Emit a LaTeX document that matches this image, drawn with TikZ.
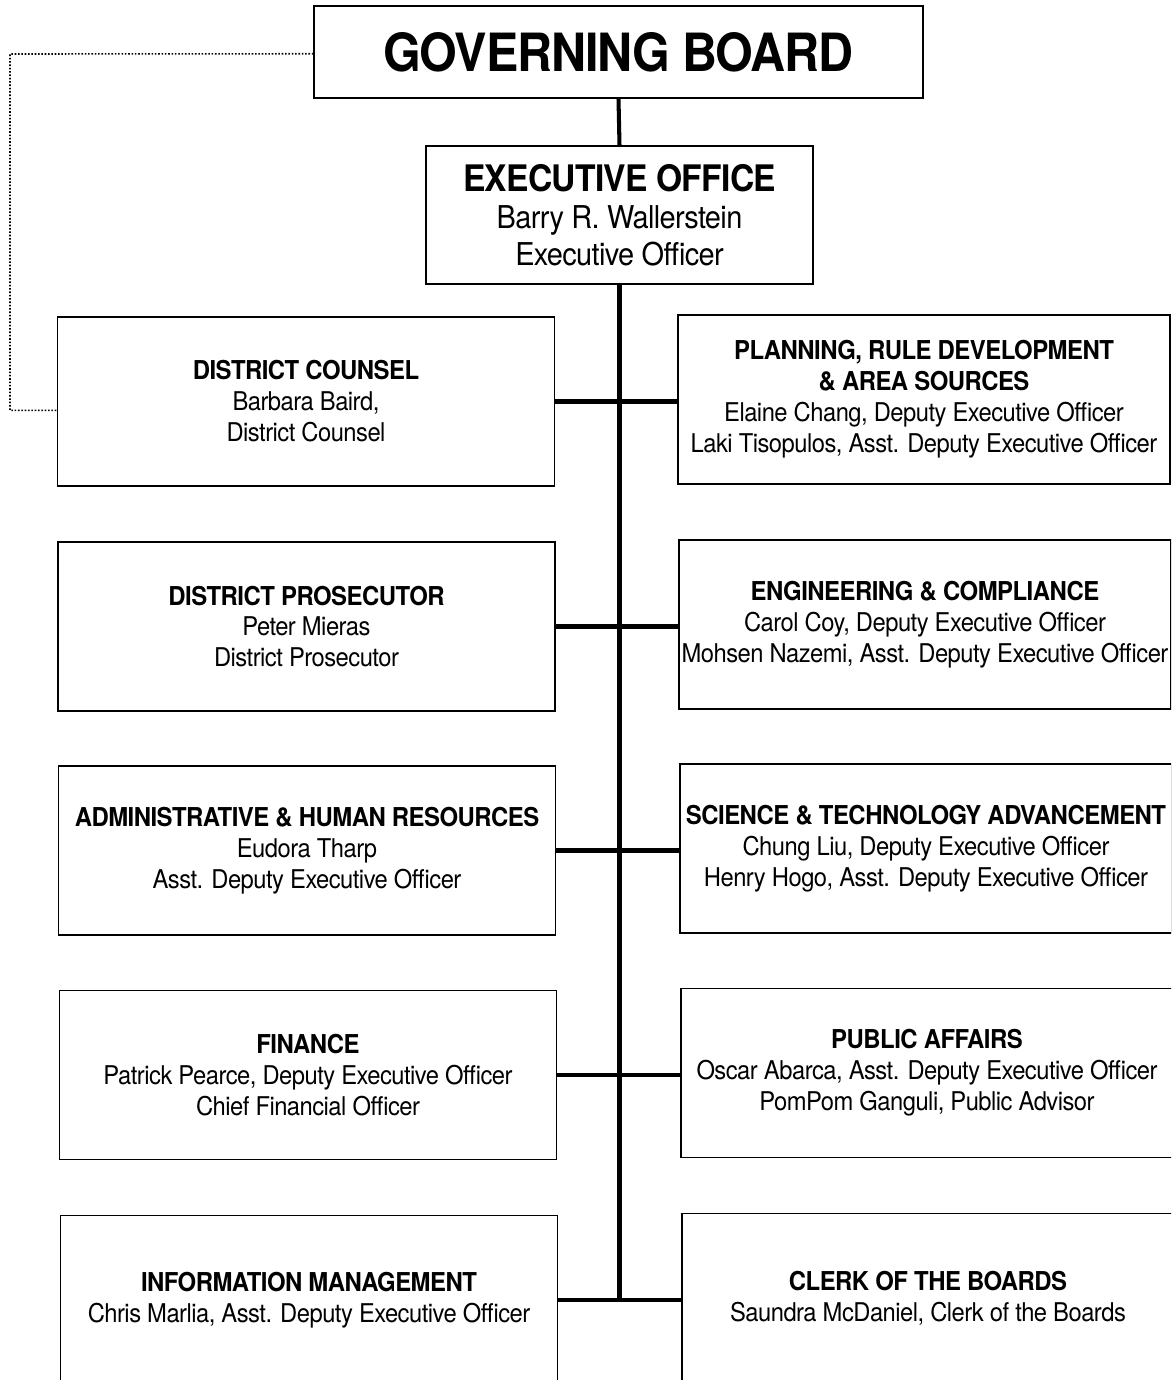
\documentclass[tikz,border=0pt]{standalone}
\usepackage{fontspec}
\setmainfont[FakeStretch=0.92,LetterSpace=-2]{TeX Gyre Heros}
\usetikzlibrary{positioning}
\newcommand{\unittitle}[1]{{\bfseries\fontsize{14.8}{17.6}\selectfont #1}}
\tikzset{
  board/.style={draw=black,line width=0.8pt,minimum width=12.18cm,minimum height=1.84cm,
    font=\bfseries\fontsize{30}{34}\selectfont},
  office/.style={draw=black,line width=0.8pt,align=center,minimum width=7.74cm,minimum height=2.76cm,
    font=\fontsize{17.9}{21}\selectfont},
  unit/.style={draw=black,line width=0.8pt,align=center,inner xsep=0pt,inner ysep=2pt,
    minimum width=9.94cm,minimum height=3.38cm,font=\fontsize{14.7}{17.6}\selectfont},
  runit/.style={unit,minimum width=9.84cm},
  trunk/.style={line width=2.3pt},
  counsel link/.style={line width=0.9pt,densely dotted}
}
\begin{document}
\begin{tikzpicture}[x=0.02cm,y=-0.02cm]
  \useasboundingbox (0,0) rectangle (1171,1380);
  \clip (0,0) rectangle (1171,1380);
  % top of the chart
  \node[board] (gb) at (618.5,52) {GOVERNING BOARD};
  \node[office] (eo) at (619.5,215) {{\bfseries\fontsize{20.8}{21}\selectfont EXECUTIVE OFFICE}\\
    Barry R. Wallerstein\\Executive Officer};
  % left column
  \node[unit] (dc) at (306,401.5) {\unittitle{DISTRICT COUNSEL}\\Barbara Baird,\\District Counsel};
  \node[unit] (dp) at (306.5,626.5) {\unittitle{DISTRICT PROSECUTOR}\\Peter Mieras\\District Prosecutor};
  \node[unit] (ah) at (307,850.5) {\unittitle{ADMINISTRATIVE \& HUMAN RESOURCES}\\Eudora Tharp\\Asst. Deputy Executive Officer};
  \node[unit] (fi) at (308,1075) {\unittitle{FINANCE}\\Patrick Pearce, Deputy Executive Officer\\Chief Financial Officer};
  \node[unit] (im) at (309,1300) {\unittitle{INFORMATION MANAGEMENT}\\Chris Marlia, Asst. Deputy Executive Officer};
  % right column
  \node[runit] (pl) at (924,399.5) {\unittitle{PLANNING, RULE DEVELOPMENT}\\\unittitle{\& AREA SOURCES}\\
    Elaine Chang, Deputy Executive Officer\\Laki Tisopulos, Asst. Deputy Executive Officer};
  \node[runit] (ec) at (925,624.5) {\unittitle{ENGINEERING \& COMPLIANCE}\\Carol Coy, Deputy Executive Officer\\
    Mohsen Nazemi, Asst. Deputy Executive Officer};
  \node[runit] (st) at (926,848.5) {\unittitle{SCIENCE \& TECHNOLOGY ADVANCEMENT}\\Chung Liu, Deputy Executive Officer\\
    Henry Hogo, Asst. Deputy Executive Officer};
  \node[runit] (pa) at (927,1073) {\unittitle{PUBLIC AFFAIRS}\\Oscar Abarca, Asst. Deputy Executive Officer\\
    PomPom Ganguli, Public Advisor};
  \node[runit] (cb) at (928,1298) {\unittitle{CLERK OF THE BOARDS}\\Saundra McDaniel, Clerk of the Boards};
  % connectors
  \draw[trunk] (gb.south) -- (eo.north);
  \draw[trunk] (eo.south) -- (eo.south |- im.east);
  \draw[trunk] (dc.east) -- (dc.east -| pl.west);
  \draw[trunk] (dp.east) -- (dp.east -| ec.west);
  \draw[trunk] (ah.east) -- (ah.east -| st.west);
  \draw[trunk] (fi.east) -- (fi.east -| pa.west);
  \draw[trunk] (im.east) -- (im.east -| cb.west);
  \coordinate (bend) at (10,54);
  \draw[counsel link] ([yshift=-1pt]gb.west) -- (bend) |- ([yshift=-5pt]dc.west);
\end{tikzpicture}
\end{document}
